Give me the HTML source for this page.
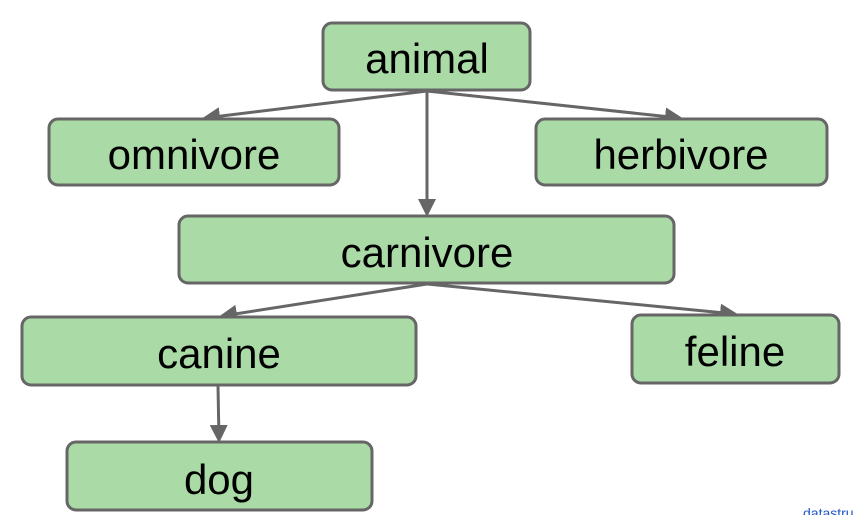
<!DOCTYPE html>
<html><head><meta charset="utf-8"><style>
html,body{margin:0;padding:0;background:#fff;}
svg{display:block;}
text{font-family:"Liberation Sans",sans-serif;}
</style></head><body>
<svg width="853" height="515" viewBox="0 0 853 515">
<defs><marker id="ah" markerWidth="6" markerHeight="6" refX="5" refY="3" orient="auto" markerUnits="strokeWidth"><path d="M0,0 L6,3 L0,6 z" fill="#666"/></marker></defs>
<g stroke="#666" stroke-width="3" fill="none" marker-end="url(#ah)">
<line x1="427" y1="91" x2="205" y2="118"/>
<line x1="427" y1="91" x2="680" y2="118"/>
<line x1="427" y1="91" x2="427" y2="214"/>
<line x1="427" y1="284" x2="222" y2="316"/>
<line x1="427" y1="284" x2="735" y2="314"/>
<line x1="218" y1="386" x2="219" y2="440"/>
</g>
<g fill="#aadba6" stroke="#666" stroke-width="3">
<rect x="323" y="23" width="207" height="67" rx="9"/>
<rect x="49" y="119" width="290" height="66" rx="9"/>
<rect x="536" y="119" width="291" height="66" rx="9"/>
<rect x="179" y="216" width="495" height="67" rx="9"/>
<rect x="22" y="317" width="394" height="68" rx="9"/>
<rect x="632" y="315" width="207" height="68" rx="9"/>
<rect x="67" y="442" width="305" height="68" rx="9"/>
</g>
<g font-size="42" fill="#000" text-anchor="middle">
<text x="427" y="73">animal</text>
<text x="194" y="169">omnivore</text>
<text x="681" y="169">herbivore</text>
<text x="427" y="267">carnivore</text>
<text x="219" y="368">canine</text>
<text x="735" y="366">feline</text>
<text x="219" y="494">dog</text>
</g>
<text x="803" y="518" font-size="14" fill="#2255cc">datastru</text>
</svg>
</body></html>
